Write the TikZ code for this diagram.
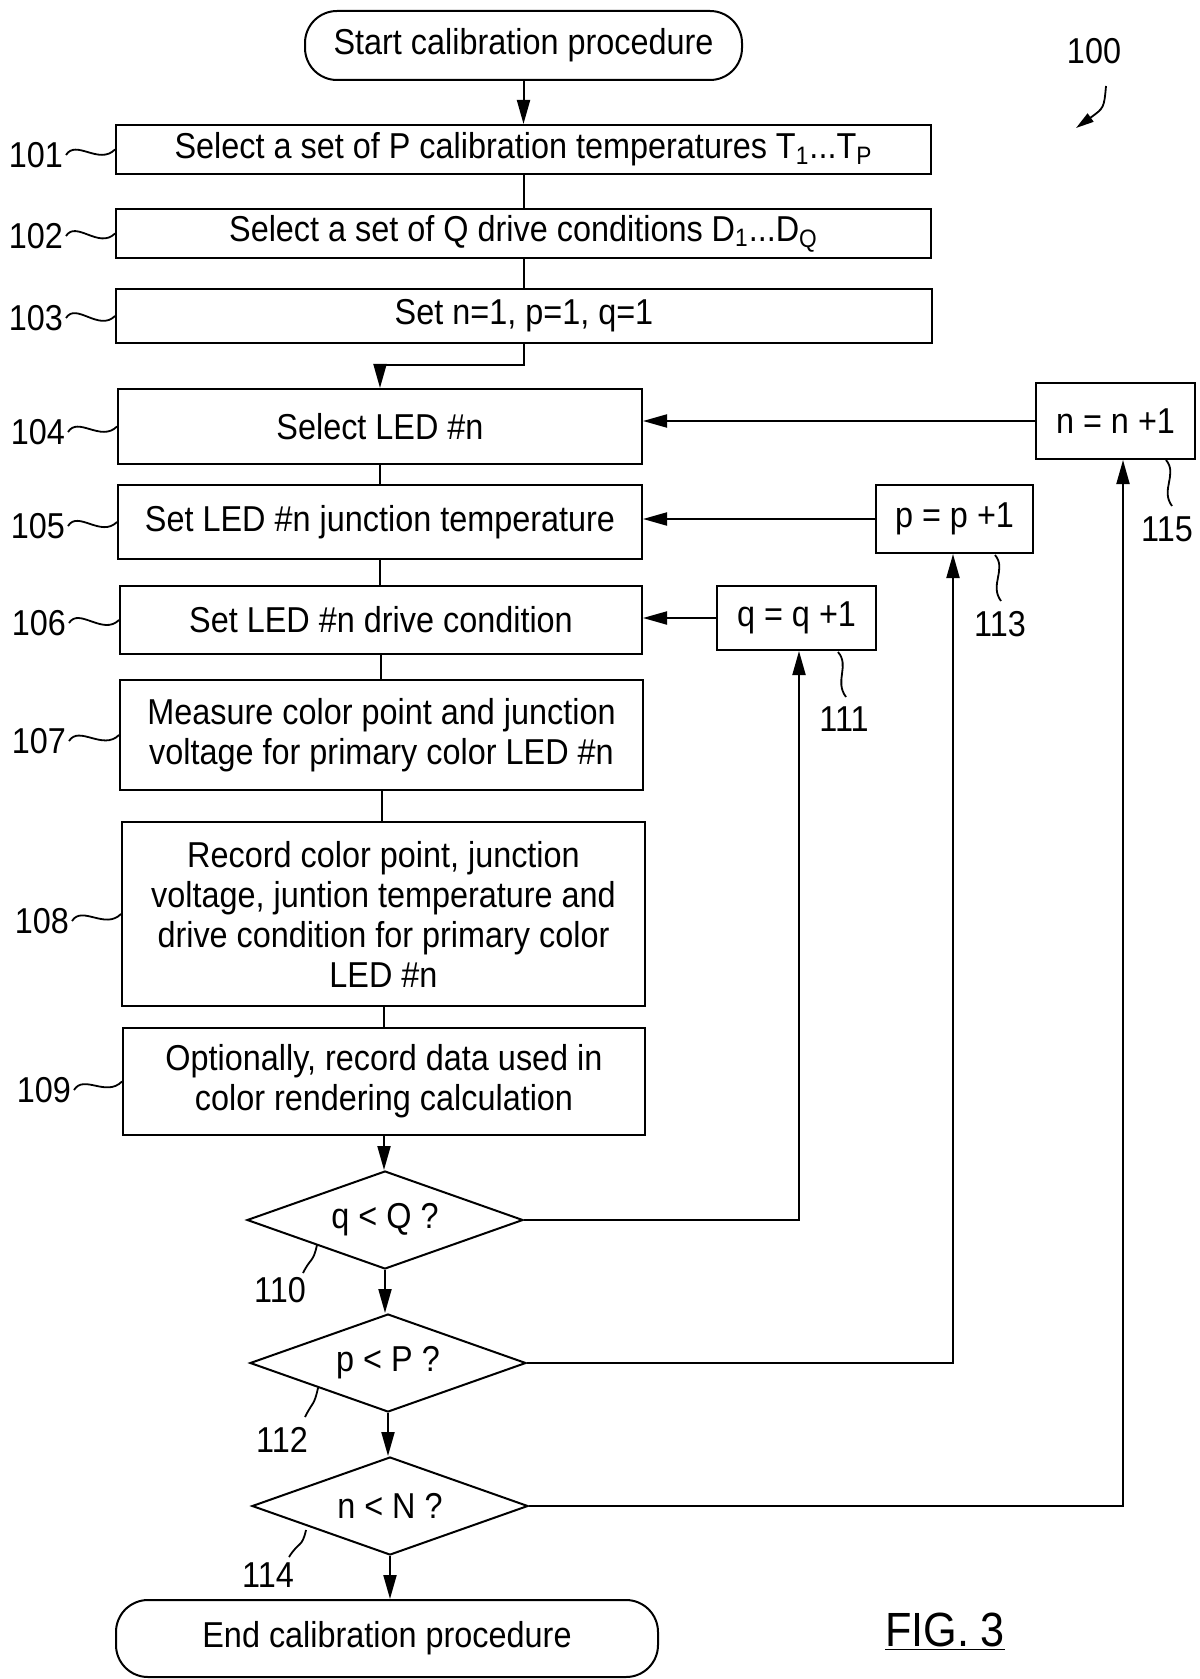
\documentclass[tikz,border=0pt]{standalone}
\usepackage{fontspec}
\setmainfont{Liberation Sans}[FakeStretch=0.9]
\usetikzlibrary{shapes.geometric,arrows.meta,calc}
\newcommand\dfont{\fontsize{18pt}{20pt}\selectfont}
\newcommand\figfont{\fontsize{24pt}{26pt}\selectfont}
\begin{document}
\begin{tikzpicture}[x=0.5pt,y=-0.5pt,
  every path/.style={line width=1pt},
  >={Triangle[length=12pt,width=6.5pt]},
  box/.style={draw, rectangle, inner sep=0pt, align=center, font=\dfont},
  term/.style={draw, rectangle, rounded corners=16pt, inner sep=0pt, align=center, font=\dfont},
  dec/.style={draw, diamond, aspect=2.82, inner sep=0pt, minimum width=138pt, minimum height=49pt, font=\dfont},
  lab/.style={inner sep=0pt, font=\dfont},
  lead/.style={line width=0.9pt}]
\useasboundingbox (0,0) rectangle (1199,1679);

% main column
\node[term, minimum width=218.5pt, minimum height=34.5pt] (start) at (523.5,45.5) {Start calibration procedure};
\node[box, minimum width=407.5pt, minimum height=24.5pt] (b101) at (523.5,149.5) {Select a set of P calibration temperatures T\textsubscript{1}...T\textsubscript{P}};
\node[box, minimum width=407.5pt, minimum height=24.5pt] (b102) at (523.5,233.5) {Select a set of Q drive conditions D\textsubscript{1}...D\textsubscript{Q}};
\node[box, minimum width=408pt, minimum height=27pt] (b103) at (524,316) {Set n=1, p=1, q=1};
\node[box, minimum width=262pt, minimum height=37.5pt] (b104) at (380,426.5) {Select LED \#n};
\node[box, minimum width=262pt, minimum height=37pt] (b105) at (380,522) {Set LED \#n junction temperature};
\node[box, minimum width=261pt, minimum height=34pt] (b106) at (381,620) {Set LED \#n drive condition};
\node[box, minimum width=261.5pt, minimum height=55pt] (b107) at (381.5,735) {Measure color point and junction\\voltage for primary color LED \#n};
\node[box, minimum width=261.5pt, minimum height=92pt] (b108) at (383.5,914) {Record color point, junction\\voltage, juntion temperature and\\drive condition for primary color\\LED \#n};
\node[box, minimum width=261pt, minimum height=53.5pt] (b109) at (384,1081.5) {Optionally, record data used in\\color rendering calculation};
\node[dec] (d110) at (385,1220) {q < Q ?};
\node[dec] (d112) at (388,1363) {p < P ?};
\node[dec] (d114) at (390,1506) {n < N ?};
\node[term, minimum width=271pt, minimum height=38.5pt] (end) at (387,1638.5) {End calibration procedure};

% increment boxes
\node[box, minimum width=79.5pt, minimum height=32pt] (qb) at (796.5,618) {q = q +1};
\node[box, minimum width=78.5pt, minimum height=34pt] (pb) at (954.5,519) {p = p +1};
\node[box, minimum width=79.5pt, minimum height=38pt] (nb) at (1115.5,421) {n = n +1};

% connectors
\draw[->] (start.south) -- (start.south |- b101.north);
\draw (b101.south) -- (b101.south |- b102.north);
\draw (b102.south) -- (b102.south |- b103.north);
\draw[->] (b103.south) -- ($(b103.south)+(0,21)$) -| (b104.north);
\draw (b104.south) -- (b104.south |- b105.north);
\draw (b105.south) -- (b105.south |- b106.north);
\draw (b106.south) -- (b106.south |- b107.north);
\draw (b107.south) -- (b107.south |- b108.north);
\draw (b108.south) -- (b108.south |- b109.north);
\draw[->] (b109.south) -- (b109.south |- d110.north);
\draw[->] (d110.south) -- (d110.south |- d112.north);
\draw[->] (d112.south) -- (d112.south |- d114.north);
\draw[->] (d114.south) -- (d114.south |- end.north);

% feedback
\draw[->] (d110.east) -| ([xshift=1.25pt]qb.south);
\draw[->] (d112.east) -| ([xshift=-0.75pt]pb.south);
\draw[->] (d114.east) -| ([xshift=3.75pt]nb.south);
\draw[->] (qb.west) -- (qb.west -| b106.east);
\draw[->] (pb.west) -- (pb.west -| b105.east);
\draw[->] (nb.west) -- (nb.west -| b104.east);

% left reference labels
\node[lab, anchor=east] (l101) at (64,155) {101};
\node[lab, anchor=east] (l102) at (64,236) {102};
\node[lab, anchor=east] (l103) at (64,318) {103};
\node[lab, anchor=east] (l104) at (66,432) {104};
\node[lab, anchor=east] (l105) at (66,526) {105};
\node[lab, anchor=east] (l106) at (67,623) {106};
\node[lab, anchor=east] (l107) at (67,741) {107};
\node[lab, anchor=east] (l108) at (70,921) {108};
\node[lab, anchor=east] (l109) at (72,1090) {109};
\foreach \i in {101,...,109}{
  \draw[lead] ([xshift=1pt]l\i.east) .. controls +(10,-16) and +(-16,16) .. (b\i.west);
}

% right reference labels
\node[lab] (l111) at (844,719) {111};
\node[lab] (l113) at (1000,624) {113};
\node[lab] (l115) at (1167,529) {115};
\draw[lead] (838,652) .. controls +(12,14) and +(-12,-16) .. (846,697);
\draw[lead] (995,555) .. controls +(12,14) and +(-12,-16) .. (1001,601);
\draw[lead] (1166,460) .. controls +(12,14) and +(-12,-16) .. (1172,506);

% diamond reference labels
\node[lab] (l110) at (280,1290) {110};
\node[lab] (l112) at (282,1440) {112};
\node[lab] (l114) at (268,1575) {114};
\draw[lead] (317,1245) .. controls +(-4,18) and +(8,-16) .. (303,1273);
\draw[lead] (318,1388) .. controls +(-4,18) and +(8,-16) .. (305,1417);
\draw[lead] (306,1530) .. controls +(-4,18) and +(10,-16) .. (289,1557);

% figure label
\node[lab] (l100) at (1094,51) {100};
\draw[lead,-{Triangle[length=9pt,width=5pt]}] (1106,86) .. controls (1104,108) .. (1076,128);
\node[inner sep=0pt, font=\figfont] (fig) at (945,1632) {\underline{FIG. 3}};
\end{tikzpicture}
\end{document}
